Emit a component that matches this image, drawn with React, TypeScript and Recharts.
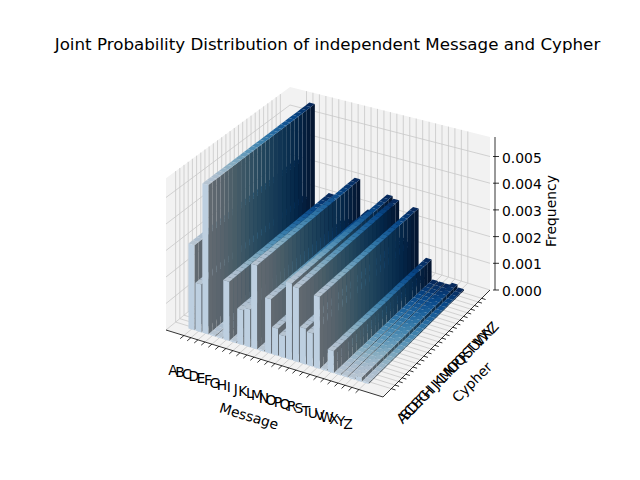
import React from 'react';
import { Bar, BarChart, XAxis, YAxis } from 'recharts';

// message letters (x), cypher letters (depth), joint probability per message row
const messageLetters = ['A','B','C','D','E','F','G','H','I','J','K','L','M','N','O','P','Q','R','S','T','U','V','W','X','Y','Z'];
const cypherLetters = ['A','B','C','D','E','F','G','H','I','J','K','L','M','N','O','P','Q','R','S','T','U','V','W','X','Y','Z'];
const jointProb = [
  0.0032, 0.0018, 0.0056, 0.00005, 0.00005, 0.0022, 0.00005, 0.0013, 0.0014, 0.0031,
  0.00005, 0.002, 0.001, 0.0008, 0.0028, 0.0027, 0.0013, 0.0012, 0.0026, 0.00005,
  0.0008, 0.00005, 0.00005, 0.00005, 0.00015, 0.00005,
];
const freqTicks = [0, 0.001, 0.002, 0.003, 0.004, 0.005];

const data = messageLetters.map((m, i) => ({ message: m, cypher: cypherLetters[i], p: jointProb[i] }));

const W = 640;
const H = 480;
const TOP = 320;
const AX = 1; // thickness kept for each axis so it still draws its ticks
const PH = H - TOP - 2 * AX;
const ZTOP = 0.00573;
const BU = (W - AX) / messageLetters.length;
const FONT = 'DejaVu Sans, sans-serif';

// floor corners of the 3d box on screen + depth/height scaling
const FL = [166, 330];
const FR = [383, 397];
const BR = [490, 290];
const BL = [290, 228];
const M0 = -2.06;
const M1 = 28.94;
const C0 = -1.8;
const C1 = 27.8;
const ZS = [26.5, 28.5, 26.7, 24.6]; // px per 0.001 at FL, FR, BR, BL

function proj(m: number, c: number, z: number) {
  const u = (m - M0) / (M1 - M0);
  const v = (c - C0) / (C1 - C0);
  const bil = (a: number, b: number, cc: number, d: number) =>
    a * (1 - u) * (1 - v) + b * u * (1 - v) + cc * u * v + d * (1 - u) * v;
  const x = bil(FL[0], FR[0], BR[0], BL[0]);
  const y = bil(FL[1], FR[1], BR[1], BL[1]);
  const s = bil(ZS[0], ZS[1], ZS[2], ZS[3]);
  return [x, y - z * 1000 * s];
}

const pts = (arr: number[][]) => arr.map((p) => `${p[0].toFixed(2)},${p[1].toFixed(2)}`).join(' ');

const BLUES = ['#f7fbff', '#deebf7', '#c6dbef', '#9ecae1', '#6baed6', '#4292c6', '#2171b5', '#08519c', '#08306b'];
function blues(t: number) {
  const s = Math.max(0, Math.min(1, t)) * (BLUES.length - 1);
  const i = Math.min(BLUES.length - 2, Math.floor(s));
  const f = s - i;
  const a = BLUES[i], b = BLUES[i + 1];
  const ch = (h: string, k: number) => parseInt(h.slice(1 + k * 2, 3 + k * 2), 16);
  return [0, 1, 2].map((k) => ch(a, k) * (1 - f) + ch(b, k) * f);
}
const shade = (rgb: number[], k: number) =>
  `rgb(${Math.round(rgb[0] * k)},${Math.round(rgb[1] * k)},${Math.round(rgb[2] * k)})`;

function Wall(props: any) {
  const { x, width, height } = props;
  const m0 = x / BU;
  const m1 = (x + width) / BU;
  const z = (Math.abs(height) / PH) * ZTOP;
  const n = cypherLetters.length;
  const faces: any[] = [];
  for (let j = n - 1; j >= 0; j--) {
    const col = blues(0.18 + (0.82 * j) / (n - 1));
    faces.push(
      <polygon key={'s' + j} fill={shade(col, 0.46)}
        points={pts([proj(m1, j, 0), proj(m1, j + 1, 0), proj(m1, j + 1, z), proj(m1, j, z)])} />,
      <polygon key={'t' + j} fill={shade(col, 0.86)}
        points={pts([proj(m0, j, z), proj(m1, j, z), proj(m1, j + 1, z), proj(m0, j + 1, z)])} />,
    );
  }
  const c0 = blues(0.22);
  faces.push(
    <polygon key="f" fill={shade(c0, 0.93)}
      points={pts([proj(m0, 0, 0), proj(m1, 0, 0), proj(m1, 0, z), proj(m0, 0, z)])} />,
  );
  return <g>{faces}</g>;
}

function Backdrop() {
  const pane = '#f2f2f2';
  const grid = '#c8c8c8';
  const lines: any[] = [];
  const seg = (k: string, p: number[], q: number[]) =>
    lines.push(<line key={k} x1={p[0]} y1={p[1]} x2={q[0]} y2={q[1]} stroke={grid} strokeWidth={0.8} />);
  messageLetters.forEach((_, i) => {
    const m = i + 0.5;
    seg('fm' + i, proj(m, C0, 0), proj(m, C1, 0));
    seg('bm' + i, proj(m, C1, 0), proj(m, C1, ZTOP));
  });
  cypherLetters.forEach((_, j) => {
    const c = j + 0.5;
    seg('fc' + j, proj(M0, c, 0), proj(M1, c, 0));
    seg('lc' + j, proj(M0, c, 0), proj(M0, c, ZTOP));
  });
  freqTicks.forEach((z, k) => {
    seg('lz' + k, proj(M0, C0, z), proj(M0, C1, z));
    seg('bz' + k, proj(M0, C1, z), proj(M1, C1, z));
  });
  return (
    <g>
      <polygon fill={pane} points={pts([proj(M0, C0, 0), proj(M1, C0, 0), proj(M1, C1, 0), proj(M0, C1, 0)])} />
      <polygon fill={pane} points={pts([proj(M0, C0, 0), proj(M0, C1, 0), proj(M0, C1, ZTOP), proj(M0, C0, ZTOP)])} />
      <polygon fill={pane} points={pts([proj(M0, C1, 0), proj(M1, C1, 0), proj(M1, C1, ZTOP), proj(M0, C1, ZTOP)])} />
      {lines}
    </g>
  );
}

function Overlay() {
  const a = proj(M0, C0, 0), b = proj(M1, C0, 0), c = proj(M1, C1, 0), zt = proj(M1, C1, ZTOP);
  return (
    <g fontFamily={FONT} fill="#000">
      <line x1={a[0]} y1={a[1]} x2={b[0]} y2={b[1]} stroke="#000" strokeWidth={0.8} />
      <line x1={b[0]} y1={b[1]} x2={c[0]} y2={c[1]} stroke="#000" strokeWidth={0.8} />
      <line x1={c[0] + 5} y1={c[1]} x2={zt[0] + 5} y2={zt[1]} stroke="#000" strokeWidth={0.8} />
      <text x={327.5} y={44} textAnchor="middle" dominantBaseline="central" fontSize={16.7}>
        Joint Probability Distribution of independent Message and Cypher
      </text>
      <text transform="translate(249,416) rotate(17)" textAnchor="middle" dominantBaseline="central" fontSize={13.9}>Message</text>
      <text transform="translate(472,382) rotate(-45)" textAnchor="middle" dominantBaseline="central" fontSize={13.9}>Cypher</text>
      <text transform="translate(551,211) rotate(-90)" textAnchor="middle" dominantBaseline="central" fontSize={13.9}>Frequency</text>
    </g>
  );
}

function MessageTick(props: any) {
  const { x, payload } = props;
  const m = x / BU;
  const p = proj(m, C0, 0);
  const q = proj(m, C0 - 0.9, 0);
  return (
    <g>
      <line x1={p[0]} y1={p[1]} x2={q[0]} y2={q[1]} stroke="#000" strokeWidth={0.8} />
      <text x={p[0] - 11} y={p[1] + 34} textAnchor="middle" dominantBaseline="central" fontSize={13.9} fontFamily={FONT} fill="#000">
        {payload.value}
      </text>
    </g>
  );
}

function CypherTick(props: any) {
  const { x, payload } = props;
  const cc = x / BU;
  const p = proj(M1, cc, 0);
  const q = proj(M1 + 0.6, cc, 0);
  return (
    <g>
      <line x1={p[0]} y1={p[1]} x2={q[0]} y2={q[1]} stroke="#000" strokeWidth={0.8} />
      <text transform={`translate(${p[0] + 11},${p[1] + 29}) rotate(-48)`} textAnchor="middle" dominantBaseline="central" fontSize={13.9} fontFamily={FONT} fill="#000">
        {payload.value}
      </text>
    </g>
  );
}

function FreqTick(props: any) {
  const { payload } = props;
  const p = proj(M1, C1, payload.value);
  return (
    <g>
      <line x1={p[0] + 3} y1={p[1]} x2={p[0] + 9} y2={p[1]} stroke="#000" strokeWidth={0.8} />
      <text x={p[0] + 12} y={p[1] + 1} textAnchor="start" dominantBaseline="central" fontSize={13.9} fontFamily={FONT} fill="#000">
        {Number(payload.value).toFixed(3)}
      </text>
    </g>
  );
}

export default function App() {
  return (
    <div style={{ position: 'absolute', left: 0, top: 0, width: W, height: H, background: '#fff' }}>
      <BarChart width={W} height={H} data={data} margin={{ top: TOP, right: 0, bottom: 0, left: 0 }} barCategoryGap="8%">
        <Backdrop />
        <XAxis dataKey="message" height={AX} interval={0} axisLine={false} tickLine={false} tick={<MessageTick />} />
        <XAxis xAxisId="cy" dataKey="cypher" height={AX} interval={0} axisLine={false} tickLine={false} tick={<CypherTick />} />
        <YAxis orientation="right" width={AX} domain={[0, ZTOP]} ticks={freqTicks} interval={0} axisLine={false} tickLine={false} tick={<FreqTick />} />
        <Bar dataKey="p" isAnimationActive={false} shape={<Wall />} />
        <Overlay />
      </BarChart>
    </div>
  );
}
